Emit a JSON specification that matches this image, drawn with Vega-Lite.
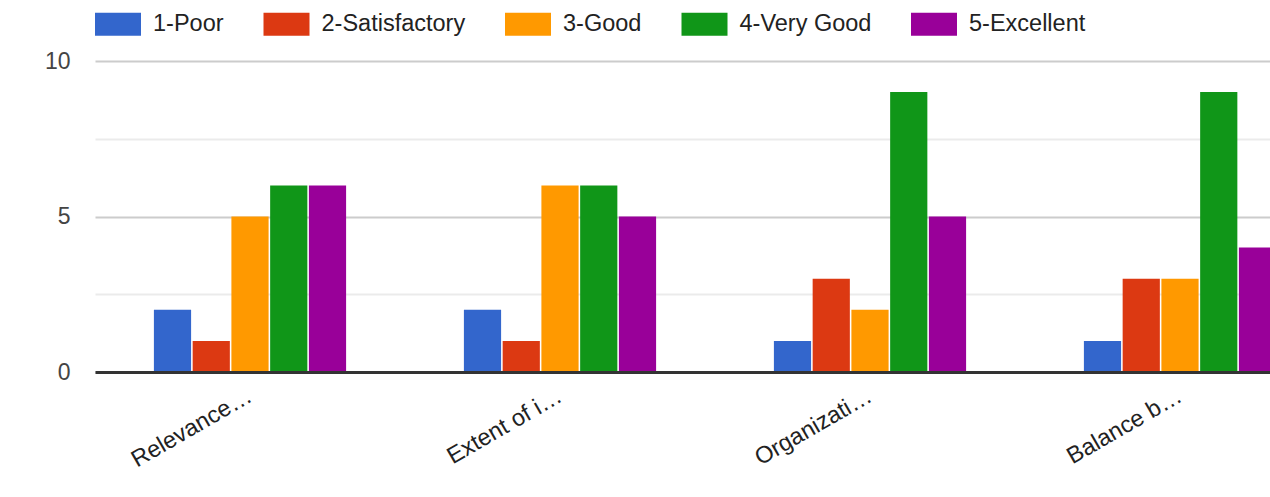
{
  "$schema": "https://vega.github.io/schema/vega-lite/v6.json",
  "width": 1175,
  "height": 311,
  "autosize": {"type": "none"},
  "padding": {"left": 95, "top": 61, "right": 0, "bottom": 125},
  "background": "white",
  "config": {"view": {"stroke": null}, "font": "Liberation Sans"},
  "data": {
    "values": [
      {"criterion": "Relevance…", "rating": "1-Poor", "count": 2},
      {"criterion": "Relevance…", "rating": "2-Satisfactory", "count": 1},
      {"criterion": "Relevance…", "rating": "3-Good", "count": 5},
      {"criterion": "Relevance…", "rating": "4-Very Good", "count": 6},
      {"criterion": "Relevance…", "rating": "5-Excellent", "count": 6},
      {"criterion": "Extent of i…", "rating": "1-Poor", "count": 2},
      {"criterion": "Extent of i…", "rating": "2-Satisfactory", "count": 1},
      {"criterion": "Extent of i…", "rating": "3-Good", "count": 6},
      {"criterion": "Extent of i…", "rating": "4-Very Good", "count": 6},
      {"criterion": "Extent of i…", "rating": "5-Excellent", "count": 5},
      {"criterion": "Organizati…", "rating": "1-Poor", "count": 1},
      {"criterion": "Organizati…", "rating": "2-Satisfactory", "count": 3},
      {"criterion": "Organizati…", "rating": "3-Good", "count": 2},
      {"criterion": "Organizati…", "rating": "4-Very Good", "count": 9},
      {"criterion": "Organizati…", "rating": "5-Excellent", "count": 5},
      {"criterion": "Balance b…", "rating": "1-Poor", "count": 1},
      {"criterion": "Balance b…", "rating": "2-Satisfactory", "count": 3},
      {"criterion": "Balance b…", "rating": "3-Good", "count": 3},
      {"criterion": "Balance b…", "rating": "4-Very Good", "count": 9},
      {"criterion": "Balance b…", "rating": "5-Excellent", "count": 4}
    ]
  },
  "mark": {"type": "bar", "clip": true},
  "encoding": {
    "x": {
      "field": "criterion",
      "type": "nominal",
      "sort": ["Relevance…", "Extent of i…", "Organizati…", "Balance b…"],
      "scale": {"range": [0, 1240], "paddingInner": 0.38, "paddingOuter": 0.19},
      "axis": {
        "title": null,
        "labelAngle": -30,
        "labelAlign": "right",
        "labelBaseline": "middle",
        "labelPadding": 22,
        "labelFontSize": 23.5,
        "labelColor": "#222222",
        "labelLimit": 400,
        "ticks": false,
        "grid": false,
        "domainColor": "#333333",
        "domainWidth": 3,
        "zindex": 1
      }
    },
    "xOffset": {
      "field": "rating",
      "type": "nominal",
      "sort": ["1-Poor", "2-Satisfactory", "3-Good", "4-Very Good", "5-Excellent"],
      "scale": {"paddingInner": 0.04}
    },
    "y": {
      "field": "count",
      "type": "quantitative",
      "scale": {"domain": [0, 10], "nice": false},
      "axis": {
        "title": null,
        "values": [0, 2.5, 5, 7.5, 10],
        "labelExpr": "datum.value % 5 === 0 ? datum.label : ''",
        "labelFontSize": 23,
        "labelColor": "#444444",
        "labelPadding": 25,
        "ticks": false,
        "domain": false,
        "grid": true,
        "gridWidth": 2,
        "gridColor": {"condition": {"test": "datum.value % 5 === 0", "value": "#cccccc"}, "value": "#ebebeb"}
      }
    },
    "color": {
      "field": "rating",
      "type": "nominal",
      "scale": {
        "domain": ["1-Poor", "2-Satisfactory", "3-Good", "4-Very Good", "5-Excellent"],
        "range": ["#3366cc", "#dc3912", "#ff9900", "#109618", "#990099"]
      },
      "legend": {
        "title": null,
        "orient": "none",
        "legendX": 0,
        "legendY": -60,
        "direction": "horizontal",
        "symbolType": "M-1,-0.5H1V0.5H-1Z",
        "symbolSize": 2116,
        "symbolStrokeWidth": 0,
        "labelFontSize": 23.5,
        "labelColor": "#222222",
        "labelOffset": 12,
        "columnPadding": 39.5,
        "labelLimit": 400
      }
    }
  }
}
